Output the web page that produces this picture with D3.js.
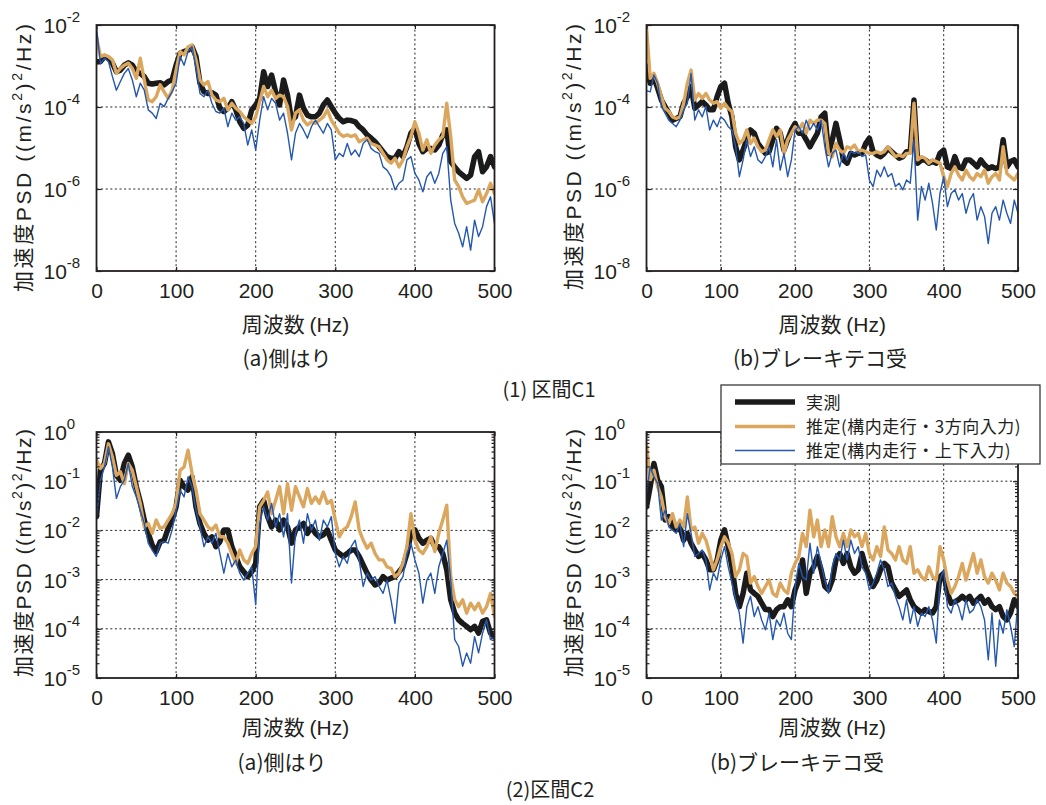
<!DOCTYPE html>
<html><head><meta charset="utf-8">
<script src="https://cdn.jsdelivr.net/npm/d3@7"></script>
<style>
body{margin:0;background:#fff;}
svg text{fill:#231f20;}
</style></head><body>
<svg id="chart" width="1046" height="805"></svg>
<script>
// ---------- DATA (log10 of PSD, sampled every 5 Hz from 0 to 500 Hz) ----------
const freqHz = d3.range(0, 501, 5);
const xTickValues = [0, 100, 200, 300, 400, 500];
const yTicksC1 = [1e-2, 1e-4, 1e-6, 1e-8];
const yTicksC2 = [1, 1e-1, 1e-2, 1e-3, 1e-4, 1e-5];
const seriesNames = ["実測", "推定(構内走行・3方向入力)", "推定(構内走行・上下入力)"];
const panelTitles = ["(a)側はり", "(b)ブレーキテコ受", "(a)側はり", "(b)ブレーキテコ受"];
const sectionTitles = ["(1) 区間C1", "(2)区間C2"];

// (1) 区間C1 (a) 側はり
const c1SideMeas = [-2.90,-2.89,-2.77,-2.81,-2.93,-3.14,-3.10,-2.98,-2.92,-2.98,
 -3.14,-3.18,-3.26,-3.42,-3.44,-3.42,-3.41,-3.46,-3.38,-3.34,
 -2.98,-2.69,-2.65,-2.61,-2.53,-2.77,-3.42,-3.63,-3.67,-3.65,
 -3.71,-4.03,-4.11,-4.03,-3.87,-4.07,-4.36,-4.52,-4.44,-4.07,
 -3.95,-3.79,-3.14,-3.50,-3.22,-3.63,-3.95,-3.34,-3.71,-4.32,
 -4.24,-3.71,-4.03,-4.20,-4.24,-4.24,-4.15,-3.95,-3.83,-3.99,
 -4.15,-4.28,-4.36,-4.32,-4.33,-4.36,-4.48,-4.56,-4.68,-4.76,
 -4.85,-4.97,-5.09,-5.21,-5.25,-5.25,-5.09,-5.21,-4.97,-4.64,
 -4.52,-4.89,-5.09,-5.01,-5.01,-5.05,-4.93,-4.68,-4.56,-5.33,
 -5.46,-5.58,-5.66,-5.74,-5.66,-5.21,-5.09,-5.58,-5.46,-5.21,
 -5.46];
const c1SideEst3 = [-2.30,-2.77,-2.73,-2.77,-2.85,-3.18,-3.06,-2.98,-2.93,-3.06,
 -3.30,-2.81,-3.34,-3.83,-3.87,-3.75,-3.46,-3.63,-3.79,-3.59,
 -3.10,-2.65,-2.73,-2.53,-2.49,-2.85,-3.34,-3.46,-3.38,-3.71,
 -3.83,-3.87,-3.79,-4.07,-3.91,-4.03,-4.11,-4.24,-4.32,-4.40,
 -4.24,-3.87,-3.50,-3.75,-3.59,-3.79,-3.71,-3.75,-3.99,-4.56,
 -4.15,-4.07,-4.32,-4.44,-4.36,-4.40,-4.32,-4.24,-4.07,-4.32,
 -4.48,-4.64,-4.72,-4.68,-4.72,-4.68,-4.85,-4.80,-4.76,-4.89,
 -4.93,-4.97,-5.13,-5.29,-5.37,-5.25,-5.46,-5.29,-4.97,-4.72,
 -4.36,-4.64,-5.05,-4.80,-5.13,-4.93,-4.80,-4.72,-3.91,-4.72,
 -5.78,-5.94,-6.19,-6.35,-6.31,-6.27,-6.02,-6.31,-6.11,-5.86,
 -6.11];
const c1SideEstV = [-2.05,-2.95,-2.81,-2.89,-3.26,-3.59,-3.38,-3.18,-3.06,-3.34,
 -3.75,-3.42,-3.59,-4.07,-4.15,-4.28,-3.91,-3.99,-3.79,-3.63,
 -3.42,-2.77,-2.98,-2.65,-2.53,-3.02,-3.67,-3.75,-3.59,-3.91,
 -4.11,-4.15,-4.03,-4.48,-4.15,-4.32,-4.24,-4.40,-4.93,-4.56,
 -5.05,-4.32,-3.75,-4.07,-3.79,-3.91,-4.32,-4.15,-4.64,-5.29,
 -4.64,-4.40,-4.56,-4.76,-4.48,-4.32,-4.48,-4.64,-4.40,-4.56,
 -5.29,-5.13,-5.21,-4.89,-5.17,-5.05,-5.21,-4.89,-4.80,-5.01,
 -5.09,-5.13,-5.46,-5.54,-5.70,-6.02,-5.86,-5.78,-5.29,-5.21,
 -5.62,-5.78,-6.07,-5.70,-5.58,-5.86,-5.62,-5.13,-4.97,-6.27,
 -6.84,-7.08,-7.41,-6.92,-7.49,-6.76,-7.16,-6.92,-6.43,-6.19,
 -6.84];

// (1) 区間C1 (b) ブレーキテコ受
const c1BrakeMeas = [-3.00,-3.42,-3.30,-3.54,-3.83,-3.99,-4.15,-4.32,-4.28,-4.24,
 -3.91,-3.75,-3.50,-4.03,-3.95,-3.87,-3.95,-4.07,-4.07,-3.75,
 -3.50,-3.42,-3.91,-4.24,-4.97,-5.29,-5.05,-4.80,-4.56,-4.64,
 -4.89,-5.01,-5.13,-5.09,-4.80,-4.52,-4.64,-5.05,-4.80,-4.56,
 -4.40,-4.64,-4.64,-4.80,-4.97,-4.80,-4.64,-4.24,-4.15,-5.13,
 -4.80,-4.40,-4.80,-5.29,-5.37,-5.13,-5.17,-5.13,-5.13,-4.89,
 -4.76,-5.09,-5.17,-5.21,-5.13,-5.01,-5.09,-5.17,-5.25,-5.21,
 -5.09,-5.09,-3.83,-5.37,-5.29,-5.29,-5.37,-5.33,-5.37,-5.13,
 -5.05,-5.46,-5.50,-5.21,-5.46,-5.50,-5.29,-5.29,-5.37,-5.46,
 -5.29,-5.41,-5.50,-5.46,-5.50,-5.46,-4.80,-5.46,-5.33,-5.29,
 -5.46];
const c1BrakeEst3 = [-2.05,-3.30,-3.18,-3.42,-3.75,-4.03,-4.11,-4.24,-4.28,-4.24,
 -3.91,-3.42,-3.10,-3.83,-3.67,-3.79,-3.67,-3.83,-3.91,-3.87,
 -4.03,-3.91,-4.03,-4.11,-4.64,-4.89,-4.80,-4.56,-4.89,-4.76,
 -4.97,-5.09,-5.05,-4.80,-4.56,-4.72,-4.56,-5.13,-4.80,-4.64,
 -4.48,-4.56,-4.40,-4.64,-4.32,-4.40,-4.32,-4.32,-4.40,-5.13,
 -5.21,-4.89,-5.05,-5.13,-4.97,-5.01,-4.93,-5.09,-5.05,-5.09,
 -5.13,-5.13,-5.09,-5.13,-5.09,-4.97,-5.09,-5.21,-5.17,-5.21,
 -5.13,-5.13,-3.91,-5.29,-5.21,-5.25,-5.37,-5.29,-5.33,-5.37,
 -5.70,-5.94,-5.62,-5.46,-5.66,-5.78,-5.54,-5.70,-5.78,-5.62,
 -5.70,-5.54,-5.86,-5.70,-5.62,-5.78,-4.97,-5.62,-5.70,-5.78,
 -5.62];
const c1BrakeEstV = [-3.60,-3.63,-3.22,-3.42,-3.99,-4.15,-4.32,-4.40,-4.48,-4.32,
 -4.07,-3.91,-3.18,-4.32,-4.07,-4.24,-3.99,-4.56,-4.32,-4.48,
 -4.24,-4.32,-4.48,-4.56,-4.97,-5.70,-5.29,-4.80,-5.21,-4.97,
 -5.29,-5.37,-5.21,-4.97,-5.46,-4.80,-5.54,-5.13,-5.70,-5.29,
 -4.56,-4.48,-4.64,-4.32,-4.56,-4.40,-4.56,-4.32,-4.97,-5.46,
 -5.13,-5.05,-5.46,-5.13,-5.29,-5.09,-5.13,-5.09,-5.21,-5.17,
 -5.78,-5.94,-5.54,-5.70,-5.46,-5.70,-5.62,-5.94,-5.86,-6.02,
 -5.78,-5.86,-4.80,-6.76,-5.94,-6.27,-5.86,-6.35,-7.00,-6.11,
 -5.70,-6.43,-6.11,-6.02,-6.27,-6.11,-6.59,-6.27,-6.11,-6.76,
 -6.43,-6.67,-7.33,-6.59,-6.43,-6.76,-6.27,-6.59,-6.84,-6.27,
 -6.59];

// (2) 区間C2 (a) 側はり
const c2SideMeas = [-1.72,-0.78,-0.64,-0.20,-0.44,-0.88,-0.98,-0.64,-0.47,-0.71,
 -1.11,-1.42,-1.79,-2.06,-2.30,-2.43,-2.23,-2.20,-1.96,-1.79,
 -1.52,-0.98,-1.11,-1.18,-0.91,-1.52,-1.86,-2.06,-2.20,-2.13,
 -2.33,-2.23,-1.99,-1.99,-2.33,-2.53,-2.74,-2.84,-2.94,-2.84,
 -2.67,-1.52,-1.39,-1.72,-1.93,-1.79,-1.99,-1.79,-1.93,-2.26,
 -1.99,-1.93,-1.86,-2.06,-1.93,-2.06,-2.13,-2.09,-1.99,-2.20,
 -2.40,-2.47,-2.53,-2.47,-2.40,-2.40,-2.53,-2.70,-2.87,-3.01,
 -3.11,-3.07,-2.94,-3.01,-2.97,-2.94,-2.84,-2.74,-2.47,-2.06,
 -1.99,-2.16,-2.26,-2.20,-2.16,-2.33,-2.33,-2.47,-2.80,-3.41,
 -3.68,-3.82,-3.89,-3.95,-4.02,-3.95,-4.09,-3.85,-3.82,-4.09,
 -4.16];
const c2SideEst3 = [-0.57,-0.74,-0.64,-0.24,-0.51,-0.88,-0.81,-1.05,-0.64,-0.78,
 -1.11,-1.45,-1.93,-1.86,-2.06,-1.79,-1.96,-1.93,-1.79,-1.66,
 -1.45,-0.78,-0.71,-0.37,-0.84,-1.18,-1.66,-1.79,-1.93,-1.99,
 -1.89,-2.13,-2.13,-2.26,-2.47,-2.67,-2.40,-2.60,-2.67,-2.47,
 -2.33,-1.52,-1.39,-1.22,-1.66,-1.39,-1.11,-1.66,-1.05,-1.59,
 -1.11,-1.32,-1.52,-1.15,-1.45,-1.32,-1.45,-1.22,-1.45,-1.39,
 -1.79,-2.13,-1.99,-1.93,-1.72,-1.42,-1.99,-2.20,-2.36,-2.26,
 -2.47,-2.60,-2.60,-2.74,-2.77,-2.94,-2.87,-2.67,-2.33,-1.66,
 -2.20,-2.40,-2.47,-2.33,-2.13,-2.43,-2.06,-1.79,-1.49,-2.94,
 -3.41,-3.55,-3.41,-3.68,-3.48,-3.61,-3.48,-3.68,-3.55,-3.28,
 -3.75];
const c2SideEstV = [-1.72,-0.98,-0.71,-0.30,-0.71,-1.35,-1.11,-0.98,-0.64,-1.11,
 -1.32,-1.59,-1.86,-2.26,-2.40,-2.53,-2.26,-2.23,-2.26,-1.99,
 -1.59,-1.18,-1.32,-0.91,-1.11,-1.59,-1.93,-2.33,-2.13,-2.26,
 -2.06,-2.47,-2.87,-2.47,-2.74,-2.60,-2.87,-3.01,-2.87,-2.74,
 -3.51,-1.86,-1.52,-1.79,-1.45,-1.93,-1.66,-2.13,-1.66,-3.07,
 -2.06,-1.79,-2.26,-1.66,-1.99,-1.79,-2.20,-1.79,-1.93,-1.72,
 -2.47,-2.74,-2.53,-2.67,-2.33,-2.20,-2.60,-3.14,-2.87,-3.01,
 -2.94,-3.14,-3.28,-3.01,-3.41,-3.89,-3.07,-2.94,-2.47,-2.26,
 -2.60,-2.87,-3.48,-3.01,-2.87,-3.28,-2.74,-2.47,-2.20,-3.01,
 -4.22,-4.36,-4.76,-4.49,-4.70,-4.16,-4.49,-4.09,-3.82,-4.22,
 -4.16];

// (2) 区間C2 (b) ブレーキテコ受
const c2BrakeMeas = [-1.52,-1.11,-0.64,-0.98,-1.11,-1.79,-1.72,-1.93,-1.99,-1.93,
 -2.20,-2.06,-2.26,-2.40,-2.53,-2.47,-2.60,-2.80,-2.80,-2.60,
 -2.20,-1.99,-2.33,-2.74,-3.28,-3.55,-3.28,-2.87,-3.21,-3.28,
 -3.34,-3.48,-3.61,-3.61,-3.75,-3.61,-3.55,-3.55,-3.41,-3.55,
 -3.21,-3.01,-2.60,-3.28,-2.87,-2.74,-2.53,-2.80,-3.14,-3.21,
 -3.01,-2.60,-2.47,-2.67,-2.47,-2.74,-2.87,-2.80,-2.47,-2.74,
 -2.94,-3.14,-3.01,-2.80,-2.67,-2.74,-3.07,-3.21,-3.34,-3.28,
 -3.21,-3.41,-3.55,-3.61,-3.68,-3.61,-3.65,-3.68,-3.55,-2.94,
 -2.87,-3.28,-3.48,-3.45,-3.41,-3.34,-3.41,-3.34,-3.48,-3.41,
 -3.34,-3.48,-3.41,-3.55,-3.61,-3.55,-3.75,-3.82,-3.68,-3.41,
 -3.55];
const c2BrakeEst3 = [-0.24,-0.98,-0.78,-1.11,-1.32,-1.72,-1.86,-1.66,-1.93,-1.79,
 -1.93,-1.32,-1.99,-1.93,-2.26,-2.06,-2.20,-2.47,-2.80,-2.60,
 -2.33,-2.13,-2.26,-2.47,-2.94,-2.80,-2.47,-2.53,-3.07,-2.94,
 -3.14,-3.28,-3.14,-3.01,-3.28,-3.34,-3.07,-3.21,-3.28,-2.87,
 -2.67,-2.53,-2.06,-2.33,-1.59,-2.13,-1.79,-2.33,-1.99,-2.33,
 -1.72,-2.13,-2.33,-2.06,-2.33,-1.99,-2.13,-2.06,-2.33,-2.06,
 -2.47,-2.60,-2.33,-2.53,-1.93,-2.40,-2.47,-2.60,-2.33,-2.60,
 -2.67,-2.33,-2.87,-2.80,-2.94,-3.01,-2.74,-2.94,-3.01,-2.33,
 -2.60,-3.01,-3.28,-3.14,-2.94,-2.67,-3.01,-2.74,-2.47,-2.87,
 -2.60,-2.94,-3.07,-2.87,-3.01,-3.21,-2.87,-3.07,-3.14,-3.28,
 -3.34];
const c2BrakeEstV = [-1.25,-0.71,-0.91,-1.05,-1.79,-1.59,-1.93,-1.99,-2.06,-1.86,
 -2.33,-1.66,-2.06,-2.53,-2.47,-2.40,-2.60,-3.21,-2.87,-3.01,
 -2.60,-2.33,-2.74,-3.07,-3.41,-3.68,-4.29,-3.55,-3.34,-3.75,
 -3.55,-3.82,-4.02,-3.68,-4.22,-3.82,-3.95,-3.68,-4.09,-4.22,
 -3.14,-2.67,-2.94,-3.01,-2.26,-2.87,-2.33,-2.67,-3.01,-3.28,
 -2.74,-2.47,-2.60,-2.20,-2.60,-2.20,-2.47,-2.33,-2.74,-2.87,
 -3.21,-3.07,-2.87,-2.60,-2.80,-3.14,-3.07,-3.34,-3.55,-3.82,
 -3.41,-3.89,-3.55,-3.95,-3.68,-3.75,-3.55,-3.82,-4.29,-3.01,
 -2.80,-3.55,-3.68,-3.41,-3.55,-3.82,-3.41,-3.68,-3.61,-3.41,
 -3.55,-3.82,-4.63,-3.68,-4.76,-3.82,-4.09,-3.61,-3.95,-4.36,
 -3.41];

// ---------- LAYOUT / STYLE ----------
const TXT = "#231f20";
const NUM_FONT = "'Liberation Sans Narrow','Liberation Sans',Arial,sans-serif";
const JP_FONT = "'Noto Sans CJK JP','Noto Sans',sans-serif";
const seriesStyle = [
  {color: "#1b1b1b", width: 5.5},
  {color: "#dba75e", width: 3.4},
  {color: "#2457ae", width: 1.4}
];

const panels = [
  {L: 96.5, R: 494.5, T: 25, B: 271, domain: [1e-8, 1e-2], ticks: yTicksC1, minor: false,
   data: [c1SideMeas, c1SideEst3, c1SideEstV], title: panelTitles[0], titleX: 287, titleY: 366, xlabY: 332, ylabC: 158, ylabLen: 268},
  {L: 646.5, R: 1018, T: 25, B: 271, domain: [1e-8, 1e-2], ticks: yTicksC1, minor: false,
   data: [c1BrakeMeas, c1BrakeEst3, c1BrakeEstV], title: panelTitles[1], titleX: 820, titleY: 366, xlabY: 332, ylabC: 157, ylabLen: 266},
  {L: 96.5, R: 494.5, T: 432, B: 678, domain: [1e-5, 1], ticks: yTicksC2, minor: true,
   data: [c2SideMeas, c2SideEst3, c2SideEstV], title: panelTitles[2], titleX: 282, titleY: 770, xlabY: 735, ylabC: 553, ylabLen: 248},
  {L: 646.5, R: 1018, T: 432, B: 678, domain: [1e-5, 1], ticks: yTicksC2, minor: true,
   data: [c2BrakeMeas, c2BrakeEst3, c2BrakeEstV], title: panelTitles[3], titleX: 797, titleY: 770, xlabY: 735, ylabC: 553, ylabLen: 248}
];

const svg = d3.select("#chart");
svg.append("rect").attr("width", 1046).attr("height", 805).attr("fill", "#fff");

panels.forEach((p, i) => {
  const xs = d3.scaleLinear().domain([0, 500]).range([p.L, p.R]);
  const ys = d3.scaleLog().domain(p.domain).range([p.B, p.T]);
  const g = svg.append("g");

  // grid
  const grid = g.append("g").attr("stroke", "#222").attr("stroke-width", 1).attr("stroke-dasharray", "2,2.6");
  grid.selectAll(".gx").data(xTickValues.slice(1, -1)).join("line")
    .attr("x1", d => xs(d)).attr("x2", d => xs(d)).attr("y1", p.T).attr("y2", p.B);
  grid.selectAll(".gy").data(p.ticks.filter(t => t < p.domain[1] && t > p.domain[0])).join("line")
    .attr("y1", d => ys(d)).attr("y2", d => ys(d)).attr("x1", p.L).attr("x2", p.R);

  // lines
  const clipId = "clip" + i;
  svg.append("clipPath").attr("id", clipId).append("rect")
    .attr("x", p.L).attr("y", p.T).attr("width", p.R - p.L).attr("height", p.B - p.T);
  const line = d3.line().x(d => xs(d[0])).y(d => ys(Math.pow(10, d[1])));
  const lg = g.append("g").attr("clip-path", `url(#${clipId})`);
  p.data.forEach((arr, k) => {
    lg.append("path").datum(d3.zip(freqHz, arr))
      .attr("fill", "none").attr("stroke", seriesStyle[k].color)
      .attr("stroke-width", seriesStyle[k].width)
      .attr("stroke-linejoin", "round").attr("stroke-linecap", "round")
      .attr("d", line);
  });

  // axes (inward ticks)
  const styleAxis = sel => { sel.select(".domain").remove(); sel.selectAll(".tick line").attr("stroke", TXT).attr("stroke-width", 1.2); };
  const noText = sel => sel.selectAll(".tick text").remove();
  const gxB = g.append("g").attr("transform", `translate(0,${p.B})`)
    .call(d3.axisBottom(xs).tickValues(xTickValues).tickSize(-4).tickPadding(12).tickFormat(d3.format("d")))
    .call(styleAxis);
  gxB.selectAll("text").attr("font-family", NUM_FONT).attr("font-size", 21).attr("fill", TXT);
  g.append("g").attr("transform", `translate(0,${p.T})`)
    .call(d3.axisTop(xs).tickValues(xTickValues).tickSize(-4))
    .call(styleAxis).call(noText);

  const gyL = g.append("g").attr("transform", `translate(${p.L},0)`)
    .call(d3.axisLeft(ys).tickValues(p.ticks).tickSize(-5).tickFormat(d => d))
    .call(styleAxis);
  gyL.selectAll(".tick text").each(function (d) {
    const t = d3.select(this);
    const e = Math.round(Math.log10(d));
    t.text(null).attr("x", -53).attr("y", 7.5).attr("dy", null)
      .attr("text-anchor", "start").attr("font-family", NUM_FONT).attr("font-size", 21).attr("fill", TXT);
    t.append("tspan").text("10");
    t.append("tspan").attr("dy", -11).attr("font-size", 15).text(e === 0 ? "0" : "-" + (-e));
  });
  g.append("g").attr("transform", `translate(${p.R},0)`)
    .call(d3.axisRight(ys).tickValues(p.ticks).tickSize(-5))
    .call(styleAxis).call(noText);

  if (p.minor) {
    const lo = Math.round(Math.log10(p.domain[0])), hi = Math.round(Math.log10(p.domain[1]));
    const minorVals = [];
    for (let e = lo; e < hi; e++) for (let m = 2; m <= 9; m++) minorVals.push(m * Math.pow(10, e));
    g.append("g").attr("transform", `translate(${p.L},0)`)
      .call(d3.axisLeft(ys).tickValues(minorVals).tickSize(-3)).call(styleAxis).call(noText);
    g.append("g").attr("transform", `translate(${p.R},0)`)
      .call(d3.axisRight(ys).tickValues(minorVals).tickSize(-3)).call(styleAxis).call(noText);
  }

  // frame
  g.append("rect").attr("x", p.L).attr("y", p.T).attr("width", p.R - p.L).attr("height", p.B - p.T)
    .attr("fill", "none").attr("stroke", TXT).attr("stroke-width", 1.8);

  // x label
  const xl = g.append("text").attr("x", (p.L + p.R) / 2).attr("y", p.xlabY)
    .attr("text-anchor", "middle").attr("font-family", JP_FONT).attr("font-size", 21).attr("fill", TXT);
  xl.append("tspan").text("周波数 ");
  xl.append("tspan").attr("font-family", NUM_FONT).text("(Hz)");

  // y label
  const yl = g.append("text")
    .attr("transform", `translate(${p.L - 66},${p.ylabC}) rotate(-90)`)
    .attr("text-anchor", "middle").attr("font-family", JP_FONT).attr("font-size", 21).attr("fill", TXT)
    .attr("textLength", p.ylabLen).attr("lengthAdjust", "spacing");
  yl.append("tspan").text("加速度");
  yl.append("tspan").attr("font-family", NUM_FONT).text("PSD ((m/s");
  yl.append("tspan").attr("font-family", NUM_FONT).attr("font-size", 14).attr("dy", -9).text("2");
  yl.append("tspan").attr("font-family", NUM_FONT).attr("dy", 9).text(")");
  yl.append("tspan").attr("font-family", NUM_FONT).attr("font-size", 14).attr("dy", -9).text("2");
  yl.append("tspan").attr("font-family", NUM_FONT).attr("dy", 9).text("/Hz)");

  // panel title
  g.append("text").attr("x", p.titleX).attr("y", p.titleY).attr("text-anchor", "middle")
    .attr("font-family", JP_FONT).attr("font-size", 21).attr("fill", TXT).text(p.title);
});

// section titles
svg.append("text").attr("x", 549).attr("y", 397).attr("text-anchor", "middle")
  .attr("font-family", JP_FONT).attr("font-size", 20).attr("fill", TXT).text(sectionTitles[0]);
svg.append("text").attr("x", 550).attr("y", 797).attr("text-anchor", "middle")
  .attr("font-family", JP_FONT).attr("font-size", 20).attr("fill", TXT).text(sectionTitles[1]);

// legend
const lgX = 721, lgY = 385, lgW = 319, lgH = 79;
const leg = svg.append("g");
leg.append("rect").attr("x", lgX).attr("y", lgY).attr("width", lgW).attr("height", lgH)
  .attr("fill", "#fff").attr("stroke", "#3a3a3a").attr("stroke-width", 1.3);
const legRowsY = [402, 426.5, 450.5];
seriesNames.forEach((name, k) => {
  leg.append("line").attr("x1", 735).attr("x2", 795).attr("y1", legRowsY[k]).attr("y2", legRowsY[k])
    .attr("stroke", seriesStyle[k].color).attr("stroke-width", seriesStyle[k].width);
  leg.append("text").attr("x", 806).attr("y", legRowsY[k] + 6.5).attr("font-family", JP_FONT)
    .attr("font-size", 17).attr("letter-spacing", 0.5).attr("fill", TXT).text(name);
});
</script>
</body></html>
